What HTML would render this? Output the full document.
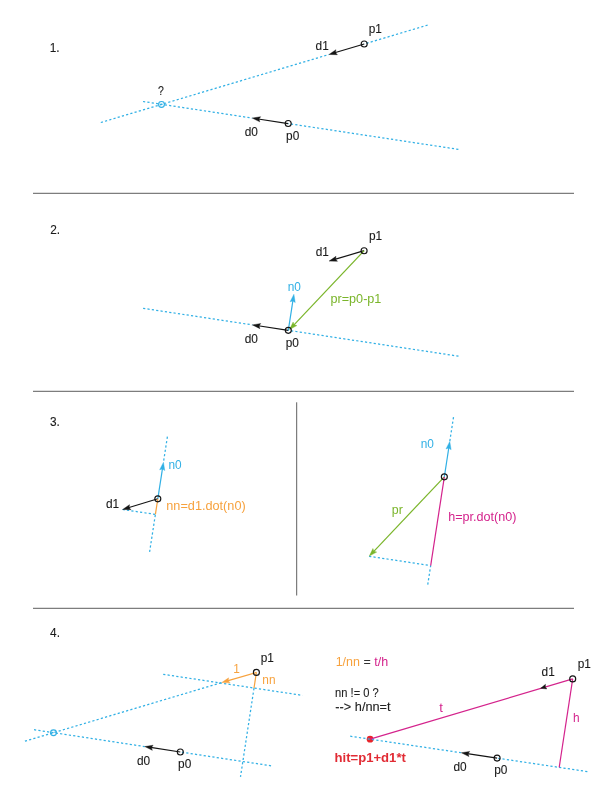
<!DOCTYPE html>
<html><head><meta charset="utf-8"><title>Ray intersection diagram</title>
<style>
html,body{margin:0;padding:0;background:#fff;}
body{width:616px;height:800px;overflow:hidden;}
svg{display:block;will-change:transform;font-family:"Liberation Sans", Arial, sans-serif;}
</style></head><body>
<svg width="616" height="800" viewBox="0 0 616 800">
<rect width="616" height="800" fill="#fff"/>
<line x1="33.00" y1="193.40" x2="574.00" y2="193.40" stroke="#7d7d7d" stroke-width="1.25"/>
<line x1="33.00" y1="391.40" x2="574.00" y2="391.40" stroke="#7d7d7d" stroke-width="1.25"/>
<line x1="33.00" y1="608.30" x2="574.00" y2="608.30" stroke="#7d7d7d" stroke-width="1.25"/>
<line x1="296.60" y1="402.30" x2="296.60" y2="595.50" stroke="#7d7d7d" stroke-width="1.25"/>
<line x1="100.80" y1="122.50" x2="329.00" y2="54.49" stroke="#31b0e5" stroke-width="1.25" stroke-dasharray="2.2 2.2" stroke-dashoffset="0.00"/>
<line x1="364.20" y1="43.99" x2="428.60" y2="24.80" stroke="#31b0e5" stroke-width="1.25" stroke-dasharray="2.2 2.2" stroke-dashoffset="274.85"/>
<line x1="143.00" y1="101.50" x2="252.30" y2="118.09" stroke="#31b0e5" stroke-width="1.25" stroke-dasharray="2.2 2.2" stroke-dashoffset="0.00"/>
<line x1="288.20" y1="123.54" x2="459.20" y2="149.50" stroke="#31b0e5" stroke-width="1.25" stroke-dasharray="2.2 2.2" stroke-dashoffset="146.86"/>
<circle cx="161.50" cy="104.40" r="2.9" stroke="#31b0e5" stroke-width="1.15" fill="none"/>
<line x1="364.20" y1="43.99" x2="334.65" y2="52.80" stroke="#141414" stroke-width="1.2"/>
<polygon points="329.00,54.49 335.92,49.71 335.42,52.57 337.41,54.69" fill="#141414" stroke="#141414" stroke-width="0.4" stroke-linejoin="round"/>
<circle cx="364.20" cy="43.99" r="3.0" stroke="#141414" stroke-width="1.15" fill="none"/>
<line x1="288.20" y1="123.54" x2="258.13" y2="118.98" stroke="#141414" stroke-width="1.2"/>
<polygon points="252.30,118.09 260.60,116.72 258.92,119.10 259.82,121.86" fill="#141414" stroke="#141414" stroke-width="0.4" stroke-linejoin="round"/>
<circle cx="288.20" cy="123.54" r="3.0" stroke="#141414" stroke-width="1.15" fill="none"/>
<line x1="143.10" y1="308.30" x2="252.40" y2="324.90" stroke="#31b0e5" stroke-width="1.25" stroke-dasharray="2.2 2.2" stroke-dashoffset="0.00"/>
<line x1="288.30" y1="330.35" x2="459.20" y2="356.30" stroke="#31b0e5" stroke-width="1.25" stroke-dasharray="2.2 2.2" stroke-dashoffset="146.86"/>
<line x1="364.10" y1="250.70" x2="334.76" y2="259.42" stroke="#141414" stroke-width="1.2"/>
<polygon points="329.10,261.10 336.03,256.33 335.52,259.19 337.51,261.31" fill="#141414" stroke="#141414" stroke-width="0.4" stroke-linejoin="round"/>
<line x1="364.10" y1="250.70" x2="293.55" y2="325.31" stroke="#7ab52a" stroke-width="1.2"/>
<polygon points="289.50,329.60 293.11,322.00 294.10,324.73 296.89,325.57" fill="#7ab52a" stroke="#7ab52a" stroke-width="0.4" stroke-linejoin="round"/>
<line x1="288.30" y1="330.35" x2="258.23" y2="325.78" stroke="#141414" stroke-width="1.2"/>
<polygon points="252.40,324.90 260.70,323.53 259.02,325.90 259.92,328.67" fill="#141414" stroke="#141414" stroke-width="0.4" stroke-linejoin="round"/>
<line x1="288.30" y1="330.35" x2="292.99" y2="300.13" stroke="#31b0e5" stroke-width="1.2"/>
<polygon points="293.90,294.30 295.24,302.60 292.87,300.92 290.10,301.81" fill="#31b0e5" stroke="#31b0e5" stroke-width="0.4" stroke-linejoin="round"/>
<circle cx="364.10" cy="250.70" r="3.0" stroke="#141414" stroke-width="1.15" fill="none"/>
<circle cx="288.30" cy="330.35" r="3.0" stroke="#141414" stroke-width="1.15" fill="none"/>
<line x1="167.40" y1="436.70" x2="163.45" y2="462.30" stroke="#31b0e5" stroke-width="1.25" stroke-dasharray="2.2 2.2" stroke-dashoffset="0.00"/>
<line x1="155.40" y1="514.40" x2="149.50" y2="552.60" stroke="#31b0e5" stroke-width="1.25" stroke-dasharray="2.2 2.2" stroke-dashoffset="78.62"/>
<line x1="122.60" y1="509.50" x2="155.40" y2="514.40" stroke="#31b0e5" stroke-width="1.25" stroke-dasharray="2.2 2.2" stroke-dashoffset="0.00"/>
<line x1="157.81" y1="498.80" x2="162.55" y2="468.13" stroke="#31b0e5" stroke-width="1.2"/>
<polygon points="163.45,462.30 164.79,470.60 162.42,468.92 159.66,469.81" fill="#31b0e5" stroke="#31b0e5" stroke-width="0.4" stroke-linejoin="round"/>
<line x1="157.81" y1="498.80" x2="128.25" y2="507.78" stroke="#141414" stroke-width="1.2"/>
<polygon points="122.60,509.50 129.50,504.69 129.01,507.55 131.01,509.66" fill="#141414" stroke="#141414" stroke-width="0.4" stroke-linejoin="round"/>
<line x1="157.81" y1="498.80" x2="155.40" y2="514.40" stroke="#f7a23e" stroke-width="1.2"/>
<circle cx="157.81" cy="498.80" r="3.0" stroke="#141414" stroke-width="1.15" fill="none"/>
<line x1="453.50" y1="417.20" x2="449.78" y2="441.40" stroke="#31b0e5" stroke-width="1.25" stroke-dasharray="2.2 2.2" stroke-dashoffset="0.00"/>
<line x1="430.68" y1="565.60" x2="427.50" y2="586.30" stroke="#31b0e5" stroke-width="1.25" stroke-dasharray="2.2 2.2" stroke-dashoffset="150.14"/>
<line x1="369.10" y1="556.30" x2="430.68" y2="565.60" stroke="#31b0e5" stroke-width="1.25" stroke-dasharray="2.2 2.2" stroke-dashoffset="0.00"/>
<line x1="444.34" y1="476.80" x2="448.88" y2="447.23" stroke="#31b0e5" stroke-width="1.2"/>
<polygon points="449.78,441.40 451.13,449.70 448.76,448.02 445.99,448.91" fill="#31b0e5" stroke="#31b0e5" stroke-width="0.4" stroke-linejoin="round"/>
<line x1="444.34" y1="476.80" x2="373.36" y2="551.81" stroke="#7ab52a" stroke-width="1.2"/>
<polygon points="369.30,556.10 372.91,548.50 373.90,551.23 376.69,552.08" fill="#7ab52a" stroke="#7ab52a" stroke-width="0.4" stroke-linejoin="round"/>
<line x1="444.34" y1="476.80" x2="430.68" y2="565.60" stroke="#d4238c" stroke-width="1.2"/>
<circle cx="444.34" cy="476.80" r="3.0" stroke="#141414" stroke-width="1.15" fill="none"/>
<line x1="24.90" y1="741.20" x2="221.70" y2="682.60" stroke="#31b0e5" stroke-width="1.25" stroke-dasharray="2.2 2.2" stroke-dashoffset="0.00"/>
<line x1="34.00" y1="729.70" x2="144.80" y2="746.57" stroke="#31b0e5" stroke-width="1.25" stroke-dasharray="2.2 2.2" stroke-dashoffset="0.00"/>
<line x1="180.30" y1="751.98" x2="271.70" y2="765.90" stroke="#31b0e5" stroke-width="1.25" stroke-dasharray="2.2 2.2" stroke-dashoffset="147.99"/>
<circle cx="53.50" cy="732.70" r="2.9" stroke="#31b0e5" stroke-width="1.15" fill="none"/>
<line x1="163.20" y1="674.30" x2="302.50" y2="695.40" stroke="#31b0e5" stroke-width="1.25" stroke-dasharray="2.2 2.2" stroke-dashoffset="0.00"/>
<line x1="254.00" y1="688.20" x2="240.50" y2="776.90" stroke="#31b0e5" stroke-width="1.25" stroke-dasharray="2.2 2.2" stroke-dashoffset="0.00"/>
<line x1="256.40" y1="672.40" x2="227.36" y2="680.94" stroke="#f7a23e" stroke-width="1.2"/>
<polygon points="221.70,682.60 228.64,677.85 228.13,680.71 230.11,682.84" fill="#f7a23e" stroke="#f7a23e" stroke-width="0.4" stroke-linejoin="round"/>
<line x1="256.40" y1="672.40" x2="254.00" y2="688.20" stroke="#f7a23e" stroke-width="1.2"/>
<circle cx="256.40" cy="672.40" r="3.0" stroke="#141414" stroke-width="1.15" fill="none"/>
<line x1="180.30" y1="751.98" x2="150.63" y2="747.46" stroke="#141414" stroke-width="1.2"/>
<polygon points="144.80,746.57 153.10,745.21 151.42,747.58 152.32,750.35" fill="#141414" stroke="#141414" stroke-width="0.4" stroke-linejoin="round"/>
<circle cx="180.30" cy="751.98" r="3.0" stroke="#141414" stroke-width="1.15" fill="none"/>
<circle cx="370.10" cy="739.20" r="3.4" fill="#e8242b"/>
<line x1="350.20" y1="736.20" x2="461.40" y2="752.79" stroke="#31b0e5" stroke-width="1.25" stroke-dasharray="2.2 2.2" stroke-dashoffset="0.00"/>
<line x1="497.10" y1="758.12" x2="588.80" y2="771.80" stroke="#31b0e5" stroke-width="1.25" stroke-dasharray="2.2 2.2" stroke-dashoffset="148.53"/>
<line x1="572.70" y1="678.90" x2="370.10" y2="739.20" stroke="#d4238c" stroke-width="1.2"/>
<polygon points="540.60,688.30 545.49,684.37 545.30,686.92 546.84,688.97" fill="#141414" stroke="#141414" stroke-width="0.4" stroke-linejoin="round"/>
<line x1="572.70" y1="678.90" x2="559.20" y2="767.38" stroke="#d4238c" stroke-width="1.2"/>
<circle cx="572.70" cy="678.90" r="3.0" stroke="#141414" stroke-width="1.15" fill="none"/>
<line x1="497.10" y1="758.12" x2="467.24" y2="753.66" stroke="#141414" stroke-width="1.2"/>
<polygon points="461.40,752.79 469.70,751.40 468.03,753.78 468.93,756.54" fill="#141414" stroke="#141414" stroke-width="0.4" stroke-linejoin="round"/>
<circle cx="497.10" cy="758.12" r="3.0" stroke="#141414" stroke-width="1.15" fill="none"/>
<text x="49.67" y="51.7" fill="#1a1a1a" stroke="#1a1a1a" stroke-width="0.1" font-size="12" textLength="9.90" lengthAdjust="spacingAndGlyphs">1.</text>
<text x="157.95" y="95.4" fill="#1a1a1a" stroke="#1a1a1a" stroke-width="0.1" font-size="12" textLength="5.86" lengthAdjust="spacingAndGlyphs">?</text>
<text x="368.63" y="32.9" fill="#1a1a1a" stroke="#1a1a1a" stroke-width="0.1" font-size="12" textLength="13.20" lengthAdjust="spacingAndGlyphs">p1</text>
<text x="315.57" y="49.6" fill="#1a1a1a" stroke="#1a1a1a" stroke-width="0.1" font-size="12" textLength="13.20" lengthAdjust="spacingAndGlyphs">d1</text>
<text x="244.63" y="135.9" fill="#1a1a1a" stroke="#1a1a1a" stroke-width="0.1" font-size="12" textLength="13.20" lengthAdjust="spacingAndGlyphs">d0</text>
<text x="286.09" y="139.6" fill="#1a1a1a" stroke="#1a1a1a" stroke-width="0.1" font-size="12" textLength="13.20" lengthAdjust="spacingAndGlyphs">p0</text>
<text x="50.28" y="233.9" fill="#1a1a1a" stroke="#1a1a1a" stroke-width="0.1" font-size="12" textLength="9.90" lengthAdjust="spacingAndGlyphs">2.</text>
<text x="368.93" y="240.1" fill="#1a1a1a" stroke="#1a1a1a" stroke-width="0.1" font-size="12" textLength="13.20" lengthAdjust="spacingAndGlyphs">p1</text>
<text x="315.64" y="256.0" fill="#1a1a1a" stroke="#1a1a1a" stroke-width="0.1" font-size="12" textLength="13.20" lengthAdjust="spacingAndGlyphs">d1</text>
<text x="287.77" y="291.4" fill="#31b0e5" font-size="12" textLength="13.20" lengthAdjust="spacingAndGlyphs">n0</text>
<text x="244.69" y="342.7" fill="#1a1a1a" stroke="#1a1a1a" stroke-width="0.1" font-size="12" textLength="13.20" lengthAdjust="spacingAndGlyphs">d0</text>
<text x="285.70" y="346.5" fill="#1a1a1a" stroke="#1a1a1a" stroke-width="0.1" font-size="12" textLength="13.20" lengthAdjust="spacingAndGlyphs">p0</text>
<text x="330.51" y="302.7" fill="#7ab52a" font-size="12" textLength="50.89" lengthAdjust="spacingAndGlyphs">pr=p0-p1</text>
<text x="49.95" y="426.1" fill="#1a1a1a" stroke="#1a1a1a" stroke-width="0.1" font-size="12" textLength="9.90" lengthAdjust="spacingAndGlyphs">3.</text>
<text x="168.48" y="468.6" fill="#31b0e5" font-size="12" textLength="13.20" lengthAdjust="spacingAndGlyphs">n0</text>
<text x="105.97" y="507.6" fill="#1a1a1a" stroke="#1a1a1a" stroke-width="0.1" font-size="12" textLength="13.20" lengthAdjust="spacingAndGlyphs">d1</text>
<text x="166.30" y="509.9" fill="#f7a23e" font-size="12" textLength="79.39" lengthAdjust="spacingAndGlyphs">nn=d1.dot(n0)</text>
<text x="420.70" y="447.8" fill="#31b0e5" font-size="12" textLength="13.20" lengthAdjust="spacingAndGlyphs">n0</text>
<text x="391.87" y="513.6" fill="#7ab52a" font-size="12" textLength="11.00" lengthAdjust="spacingAndGlyphs">pr</text>
<text x="448.22" y="520.8" fill="#d4238c" font-size="12" textLength="68.22" lengthAdjust="spacingAndGlyphs">h=pr.dot(n0)</text>
<text x="50.09" y="636.6" fill="#1a1a1a" stroke="#1a1a1a" stroke-width="0.1" font-size="12" textLength="9.90" lengthAdjust="spacingAndGlyphs">4.</text>
<text x="233.34" y="673.4" fill="#f7a23e" font-size="12" textLength="6.60" lengthAdjust="spacingAndGlyphs">1</text>
<text x="262.35" y="684.4" fill="#f7a23e" font-size="12" textLength="13.20" lengthAdjust="spacingAndGlyphs">nn</text>
<text x="260.66" y="661.5" fill="#1a1a1a" stroke="#1a1a1a" stroke-width="0.1" font-size="12" textLength="13.20" lengthAdjust="spacingAndGlyphs">p1</text>
<text x="136.94" y="764.5" fill="#1a1a1a" stroke="#1a1a1a" stroke-width="0.1" font-size="12" textLength="13.20" lengthAdjust="spacingAndGlyphs">d0</text>
<text x="178.09" y="768.1" fill="#1a1a1a" stroke="#1a1a1a" stroke-width="0.1" font-size="12" textLength="13.20" lengthAdjust="spacingAndGlyphs">p0</text>
<text x="335.65" y="665.9" fill="#f7a23e" font-size="12" textLength="52.53" lengthAdjust="spacingAndGlyphs"><tspan fill="#f7a23e">1/nn</tspan><tspan fill="#333"> = </tspan><tspan fill="#d4238c">t/h</tspan></text>
<text x="335.05" y="696.6" fill="#222" stroke="#222" stroke-width="0.1" font-size="12" textLength="43.68" lengthAdjust="spacingAndGlyphs">nn != 0 ?</text>
<text x="335.39" y="711.2" fill="#222" stroke="#222" stroke-width="0.1" font-size="12" textLength="55.22" lengthAdjust="spacingAndGlyphs">--&gt; h/nn=t</text>
<text x="334.51" y="761.6" fill="#e12b34" font-size="12" textLength="71.37" lengthAdjust="spacingAndGlyphs" font-weight="bold">hit=p1+d1*t</text>
<text x="541.57" y="675.9" fill="#1a1a1a" stroke="#1a1a1a" stroke-width="0.1" font-size="12" textLength="13.20" lengthAdjust="spacingAndGlyphs">d1</text>
<text x="577.70" y="667.7" fill="#1a1a1a" stroke="#1a1a1a" stroke-width="0.1" font-size="12" textLength="13.20" lengthAdjust="spacingAndGlyphs">p1</text>
<text x="439.21" y="711.8" fill="#d4238c" font-size="12" textLength="3.68" lengthAdjust="spacingAndGlyphs">t</text>
<text x="573.12" y="721.8" fill="#d4238c" font-size="12" textLength="6.60" lengthAdjust="spacingAndGlyphs">h</text>
<text x="453.38" y="770.5" fill="#1a1a1a" stroke="#1a1a1a" stroke-width="0.1" font-size="12" textLength="13.20" lengthAdjust="spacingAndGlyphs">d0</text>
<text x="494.13" y="774.1" fill="#1a1a1a" stroke="#1a1a1a" stroke-width="0.1" font-size="12" textLength="13.20" lengthAdjust="spacingAndGlyphs">p0</text>
</svg>
</body></html>
